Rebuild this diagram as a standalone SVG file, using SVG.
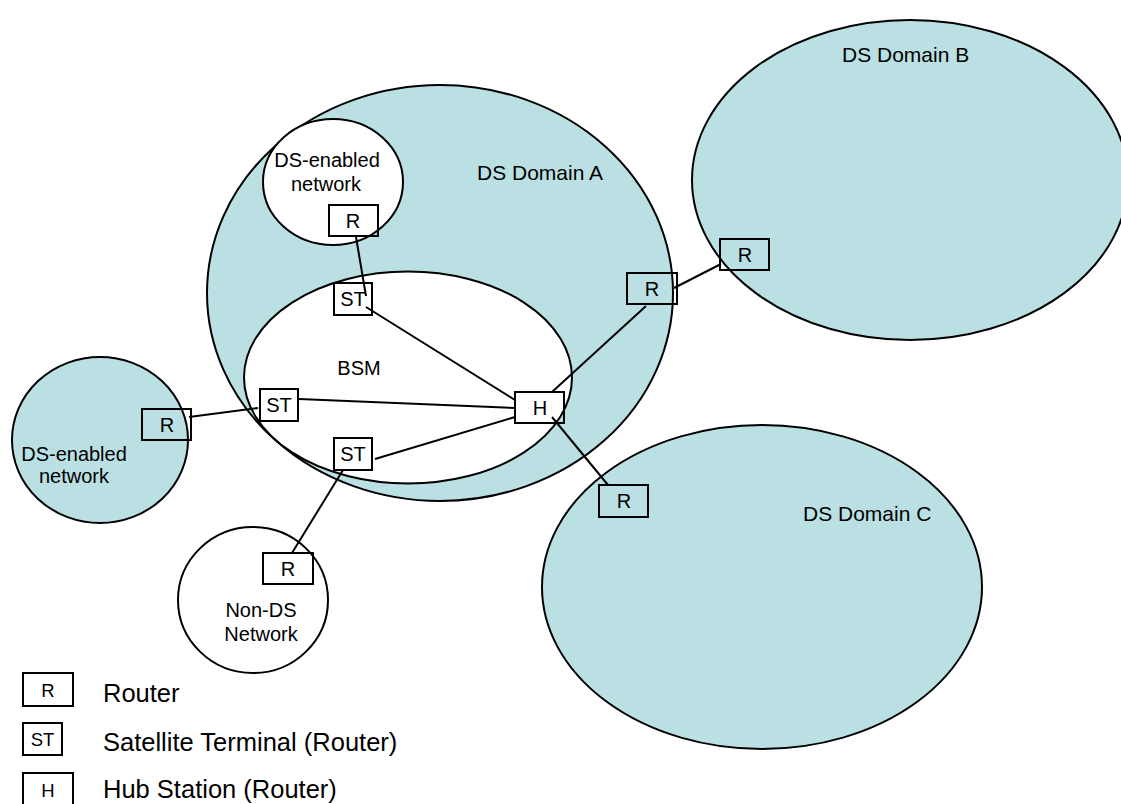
<svg xmlns="http://www.w3.org/2000/svg" width="1121" height="804" viewBox="0 0 1121 804">
<style>
.dom{fill:#BAE0E3;stroke:#000;stroke-width:2}
.net{fill:#FFFFFF;stroke:#000;stroke-width:2}
.box{fill:none;stroke:#000;stroke-width:2}
.lbl{font-family:"Liberation Sans",Arial,sans-serif;font-size:20px;fill:#000;text-anchor:middle}
.dl{font-family:"Liberation Sans",Arial,sans-serif;font-size:21px;fill:#000}
.lg{font-family:"Liberation Sans",Arial,sans-serif;font-size:25.5px;fill:#000}
.lgb{font-family:"Liberation Sans",Arial,sans-serif;font-size:18.5px;fill:#000;text-anchor:middle}
.cn line{stroke:#000;stroke-width:2}
</style>
<rect width="1121" height="804" fill="#FFFFFF"/>
<g id="domainB">
<ellipse class="dom" cx="910" cy="180" rx="218" ry="160"/>
<text class="dl" x="842" y="62">DS Domain B</text>
</g>
<g id="domainC">
<ellipse class="dom" cx="762" cy="587" rx="220" ry="162"/>
<text class="dl" x="803" y="521">DS Domain C</text>
</g>
<g id="domainA">
<ellipse class="dom" cx="440" cy="293" rx="233" ry="208"/>
<text class="dl" x="477" y="180">DS Domain A</text>
</g>
<g id="netTop">
<ellipse class="net" cx="333" cy="182" rx="70" ry="63"/>
<text class="lbl" x="327" y="167">DS-enabled</text>
<text class="lbl" x="326" y="191">network</text>
</g>
<g id="bsm">
<ellipse class="net" cx="408" cy="377.5" rx="164" ry="106"/>
<text class="lbl" x="359" y="375">BSM</text>
</g>
<g id="netLeft">
<ellipse class="dom" cx="100" cy="440" rx="88" ry="83"/>
<text class="lbl" x="74" y="461">DS-enabled</text>
<text class="lbl" x="74" y="483">network</text>
</g>
<g id="netNonDS">
<ellipse class="net" cx="253" cy="600" rx="75" ry="73"/>
<text class="lbl" x="261" y="617">Non-DS</text>
<text class="lbl" x="261" y="641">Network</text>
</g>
<g id="rTop"><rect class="box" x="329" y="205" width="49" height="31"/><text class="lbl" x="353" y="228">R</text></g>
<g id="stTop"><rect class="box" x="334" y="283" width="38" height="32"/><text class="lbl" x="353" y="306">ST</text></g>
<g id="stMid"><rect class="box" x="260" y="389" width="38" height="32"/><text class="lbl" x="279" y="412">ST</text></g>
<g id="stLow"><rect class="box" x="334" y="438" width="38" height="32"/><text class="lbl" x="353" y="461">ST</text></g>
<g id="rLeft"><rect class="box" x="142" y="409" width="49" height="31"/><text class="lbl" x="167" y="432">R</text></g>
<g id="hub"><rect class="box" x="515" y="392" width="49" height="31"/><text class="lbl" x="540" y="415">H</text></g>
<g id="rA"><rect class="box" x="627" y="273" width="50" height="31"/><text class="lbl" x="652" y="296">R</text></g>
<g id="rB"><rect class="box" x="720" y="239" width="49" height="31"/><text class="lbl" x="745" y="262">R</text></g>
<g id="rC"><rect class="box" x="599" y="485" width="49" height="32"/><text class="lbl" x="624" y="508">R</text></g>
<g id="rNonDS"><rect class="box" x="263" y="553" width="50" height="31"/><text class="lbl" x="288" y="576">R</text></g>
<g id="connectors" class="cn">
<line x1="356" y1="237" x2="366" y2="296"/>
<line x1="366" y1="307" x2="515" y2="400"/>
<line x1="189" y1="417" x2="258" y2="408"/>
<line x1="299" y1="399" x2="515" y2="408"/>
<line x1="375" y1="459" x2="515" y2="417"/>
<line x1="343" y1="470" x2="292" y2="553"/>
<line x1="552" y1="392" x2="646" y2="306"/>
<line x1="674" y1="288" x2="721" y2="264"/>
<line x1="552" y1="417" x2="608" y2="485"/>
</g>
<g id="legend">
<rect class="box" x="23" y="673" width="50" height="33"/><text class="lgb" x="48" y="697">R</text>
<text class="lg" x="103" y="702">Router</text>
<rect class="box" x="23" y="723" width="39" height="32"/><text class="lgb" x="42.5" y="746">ST</text>
<text class="lg" x="103" y="751">Satellite Terminal (Router)</text>
<rect class="box" x="23" y="773" width="50" height="33"/><text class="lgb" x="48" y="797">H</text>
<text class="lg" x="103" y="798">Hub Station (Router)</text>
</g>
</svg>
